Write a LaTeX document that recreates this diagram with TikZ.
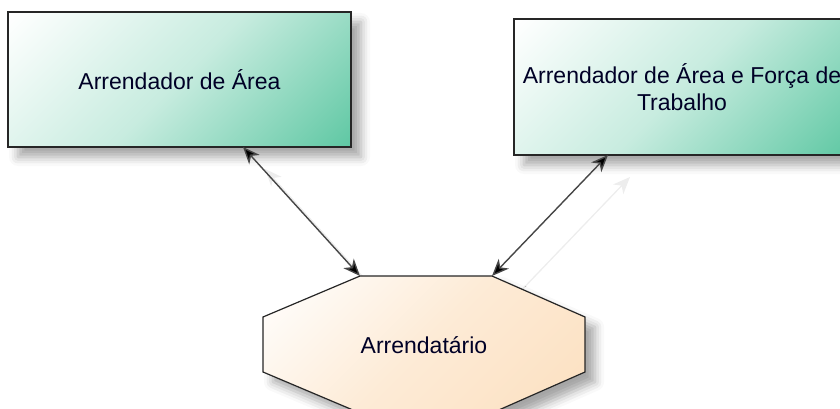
\documentclass[tikz,border=0pt]{standalone}
\usepackage{fontspec}
\setmainfont{Liberation Sans}
\usetikzlibrary{arrows.meta,shadows.blur}
\definecolor{boxgreen}{RGB}{96,200,164}
\definecolor{peach}{RGB}{252,224,192}
\definecolor{linkgray}{RGB}{70,70,70}
% smooth diagonal fades, white at the top-left corner
\pgfdeclareverticalshading{greenfade}{100bp}{color(0bp)=(boxgreen); color(15bp)=(boxgreen); color(50bp)=(boxgreen!35!white); color(85bp)=(white); color(100bp)=(white)}
\pgfdeclareverticalshading{peachfade}{100bp}{color(0bp)=(peach); color(15bp)=(peach); color(50bp)=(peach!65!white); color(85bp)=(white); color(100bp)=(white)}
\tikzset{
  lbl/.style={font=\fontsize{23}{27}\selectfont, text=black!85!blue, align=center},
  greenbox/.style={draw=black!85, line width=1.4pt, shading=greenfade, shading angle=45,
    blur shadow={shadow xshift=10pt, shadow yshift=-10pt, shadow blur radius=9pt, shadow opacity=35}},
  octobox/.style={draw=black!85, line width=1.2pt, shading=peachfade, shading angle=45,
    blur shadow={shadow xshift=10pt, shadow yshift=-10pt, shadow blur radius=9pt, shadow opacity=35}},
  linktip/.tip={Stealth[length=17pt,width=14pt,inset=5pt,fill=black]},
  link/.style={draw=linkgray, line width=1.4pt, {linktip}-{linktip}},
  linkshadow/.style={draw=black!7, line width=1.3pt, -{Stealth[length=17pt,width=14pt,inset=5pt]}}
}
\begin{document}
\begin{tikzpicture}[x=1pt,y=-1pt]
  \useasboundingbox (0,0) rectangle (840,409);

  % the two lessor boxes
  \path[greenbox] (8,12) rectangle (351,147);
  \node[lbl] (area) at (179.5,79.5) {Arrendador de Área};
  \coordinate (areaS) at (243,147);

  \path[greenbox] (514,19) rectangle (850,155);
  \node[lbl] (areaforca) at (682,87) {Arrendador de Área e Força de\\Trabalho};
  \coordinate (forcaS) at (608,155);

  % link end points on the tenant octagon
  \coordinate (tenantL) at (360,276);
  \coordinate (tenantR) at (492,276);

  % faint shadows of the links, partly covered by the octagon
  \draw[linkshadow, transform canvas={shift={(22pt,-22pt)}}] (tenantR) -- (forcaS);
  \draw[linkshadow, transform canvas={shift={(22pt,-22pt)}}] (tenantL) -- (areaS);

  % the tenant octagon
  \path[octobox] (tenantL) -- (tenantR) -- (585,317) -- (585,372) -- (492,413)
    -- (360,413) -- (263,372) -- (263,317) -- cycle;
  \node[lbl] (tenant) at (424,345) {Arrendatário};

  % links
  \draw[link] (areaS) -- (tenantL);
  \draw[link] (forcaS) -- (tenantR);
\end{tikzpicture}
\end{document}
